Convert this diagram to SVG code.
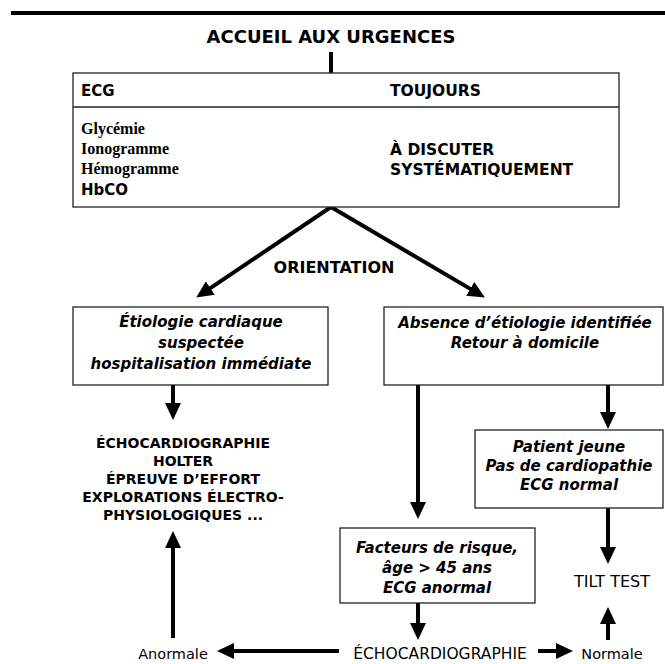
<svg xmlns="http://www.w3.org/2000/svg" width="665" height="664" viewBox="0 0 665 664">
<defs>
<marker id="ah" markerUnits="userSpaceOnUse" markerWidth="17" markerHeight="16" viewBox="0 0 17 16" refX="4" refY="8" orient="auto">
<path d="M0,0 L17,8 L0,16 z" fill="#000"/>
</marker>
</defs>
<style>
.box{fill:#fff;stroke:#222;stroke-width:1.3}
.h{font-family:"DejaVu Sans",Verdana,sans-serif;font-weight:bold;fill:#000}
.bi{font-family:"DejaVu Sans",Verdana,sans-serif;font-weight:bold;font-style:italic;font-size:15px;fill:#000;text-anchor:middle}
.r{font-family:"DejaVu Sans",Verdana,sans-serif;fill:#000}
.s{font-family:"Liberation Serif","Times New Roman",serif;font-weight:bold;font-size:16px;fill:#000}
.c{fill:none;stroke:#000;stroke-width:4}
.ca{fill:none;stroke:#000;stroke-width:4;marker-end:url(#ah)}
</style>
<rect x="0" y="0" width="665" height="664" fill="#fff"/>
<line x1="11" y1="13" x2="665" y2="13" stroke="#000" stroke-width="4"/>

<g id="connectors">
<line class="c" x1="331" y1="52" x2="331" y2="74" stroke-width="3"/>
<line class="ca" x1="331" y1="207" x2="207" y2="290.3"/>
<line class="ca" x1="331" y1="207" x2="473.7" y2="290.9"/>
<line class="ca" x1="173" y1="385" x2="173" y2="407"/>
<line class="ca" x1="418" y1="385" x2="418" y2="506"/>
<line class="ca" x1="608" y1="385" x2="608" y2="416"/>
<line class="ca" x1="608" y1="508" x2="608" y2="551"/>
<line class="ca" x1="608" y1="640" x2="608" y2="620"/>
<line class="ca" x1="418" y1="603" x2="418" y2="627"/>
<line class="ca" x1="173" y1="638" x2="173" y2="544"/>
<line class="ca" x1="339" y1="651" x2="230" y2="651"/>
<line class="ca" x1="538" y1="651" x2="560" y2="651"/>
</g>

<g id="title">
<text class="h" x="331" y="43" font-size="18" text-anchor="middle">ACCUEIL AUX URGENCES</text>
</g>

<g id="accueil">
<rect class="box" x="73" y="73" width="546" height="134"/>
<line x1="73" y1="107" x2="619" y2="107" stroke="#222" stroke-width="1.3"/>
<text class="h" x="81" y="96" font-size="15">ECG</text>
<text class="h" x="390" y="96" font-size="15.5">TOUJOURS</text>
<text class="s" x="81" y="134">Glycémie</text>
<text class="s" x="81" y="154">Ionogramme</text>
<text class="s" x="81" y="174">Hémogramme</text>
<text class="h" x="81" y="195" font-size="15">HbCO</text>
<text class="h" x="390" y="155" font-size="15.5">À DISCUTER</text>
<text class="h" x="390" y="175" font-size="15.5">SYSTÉMATIQUEMENT</text>
</g>

<g id="orientation">
<text class="h" x="334" y="273" font-size="16" text-anchor="middle">ORIENTATION</text>
</g>

<g id="cardiaque">
<rect class="box" x="73" y="307" width="255" height="78"/>
<text class="bi" x="201" y="327">Étiologie cardiaque</text>
<text class="bi" x="201" y="348">suspectée</text>
<text class="bi" x="201" y="369">hospitalisation immédiate</text>
</g>

<g id="absence">
<rect class="box" x="384" y="307" width="279" height="78"/>
<text class="bi" x="525" y="328">Absence d’étiologie identifiée</text>
<text class="bi" x="525" y="348">Retour à domicile</text>
</g>

<g id="explorations">
<text class="h" font-size="14" text-anchor="middle" x="183" y="448">ÉCHOCARDIOGRAPHIE</text>
<text class="h" font-size="14" text-anchor="middle" x="183" y="466">HOLTER</text>
<text class="h" font-size="14" text-anchor="middle" x="183" y="484">ÉPREUVE D’EFFORT</text>
<text class="h" font-size="14" text-anchor="middle" x="183" y="502">EXPLORATIONS ÉLECTRO-</text>
<text class="h" font-size="14" text-anchor="middle" x="183" y="520">PHYSIOLOGIQUES ...</text>
</g>

<g id="patient">
<rect class="box" x="475" y="430" width="188" height="78"/>
<text class="bi" x="569" y="452">Patient jeune</text>
<text class="bi" x="569" y="471">Pas de cardiopathie</text>
<text class="bi" x="569" y="490">ECG normal</text>
</g>

<g id="facteurs">
<rect class="box" x="340" y="528" width="195" height="75"/>
<text class="bi" x="437" y="553">Facteurs de risque,</text>
<text class="bi" x="437" y="573">âge &gt; 45 ans</text>
<text class="bi" x="437" y="593">ECG anormal</text>
</g>

<g id="tilt">
<text class="r" x="612" y="587" font-size="16" text-anchor="middle">TILT TEST</text>
</g>

<g id="echo">
<text class="r" x="440" y="659" font-size="15.5" text-anchor="middle">ÉCHOCARDIOGRAPHIE</text>
</g>

<g id="anormale">
<text class="r" x="173" y="659" font-size="14.5" text-anchor="middle">Anormale</text>
</g>

<g id="normale">
<text class="r" x="612" y="659" font-size="14.5" text-anchor="middle">Normale</text>
</g>
</svg>
